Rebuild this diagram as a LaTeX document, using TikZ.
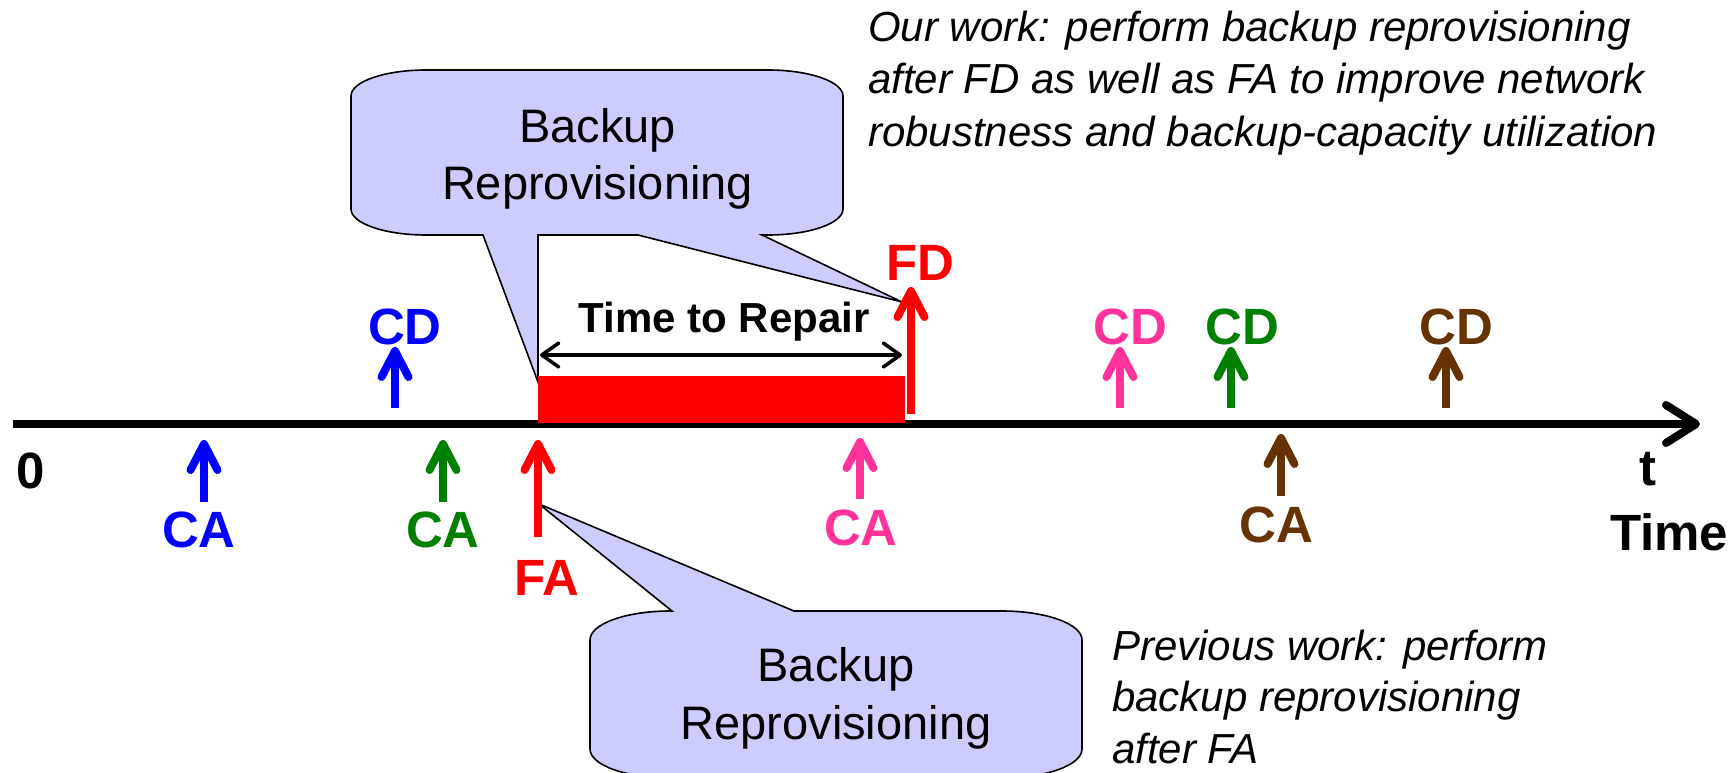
\documentclass[tikz,border=0pt]{standalone}
\usepackage{fontspec}
\setmainfont{Liberation Sans}
\usetikzlibrary{arrows.meta}

\definecolor{evblue}{RGB}{0,0,255}
\definecolor{evgreen}{RGB}{0,128,0}
\definecolor{evred}{RGB}{255,0,0}
\definecolor{evpink}{RGB}{255,51,153}
\definecolor{evbrown}{RGB}{102,51,0}
\definecolor{callfill}{RGB}{204,204,255}

% one connection event: small upward arrow plus its label
% #1 name, #2 colour, #3 x, #4 tail y, #5 tip y, #6 label x, #7 label baseline, #8 text
\newcommand\eventmark[8]{%
  \coordinate (#1-tail) at (#3,#4);
  \coordinate (#1-tip) at (#3,#5);
  \draw[evarrow, draw=#2] (#1-tail) -- (#1-tip);
  \node[lbl, text=#2] (#1) at (#6,#7) {#8};
}

\begin{document}
\begin{tikzpicture}[x=1pt, y=-1pt,
  lbl/.style={font=\fontsize{51}{60}\selectfont\bfseries, inner sep=0pt, anchor=base},
  evarrow/.style={line width=8pt, -{Straight Barb[length=26pt, width=27pt, round]}},
  bubble/.style={draw=black, line width=1.6pt, fill=callfill, line join=miter},
  bubtext/.style={font=\fontsize{47}{57.5}\selectfont, align=center, inner sep=0pt, anchor=base},
  note/.style={font=\fontsize{42}{53}\selectfont\itshape, align=left, inner sep=0pt, anchor=base west},
]
\useasboundingbox (0,0) rectangle (1733,773);

% wedge tips of the two callouts
\coordinate (wedgeFD)  at (902,302);
\coordinate (wedgeBar) at (538,382);
\coordinate (wedgeFA)  at (539,504);

% upper callout (two pointers); multi-line text sits on its last baseline
\path[bubble] (426,70) -- (768,70)
  arc[start angle=270, end angle=360, x radius=75, y radius=26] -- (843,209)
  arc[start angle=0, end angle=90, x radius=75, y radius=26] -- (762,235)
  -- (wedgeFD) -- (638,235) -- (538,235) -- (wedgeBar) -- (483,235) -- (426,235)
  arc[start angle=90, end angle=180, x radius=75, y radius=26] -- (351,96)
  arc[start angle=180, end angle=270, x radius=75, y radius=26] -- cycle;
\node[bubtext] (bubtop) at (597.5,200) {Backup\\Reprovisioning};

% lower callout
\path[bubble] (670,611) -- (672,611) -- (wedgeFA) -- (794,611) -- (1002,611)
  arc[start angle=270, end angle=360, x radius=80, y radius=29] -- (1082,749)
  arc[start angle=0, end angle=90, x radius=80, y radius=29] -- (670,778)
  arc[start angle=90, end angle=180, x radius=80, y radius=29] -- (590,640)
  arc[start angle=180, end angle=270, x radius=80, y radius=29] -- cycle;
\node[bubtext] (bubbot) at (836,739) {Backup\\Reprovisioning};

% time axis
\coordinate (origin) at (13,424);
\coordinate (axisend) at (1700,424);
\draw[line width=8pt, -{Straight Barb[length=30pt, width=38pt, round]}] (origin) -- (axisend);
\node[lbl] (zero) at (31,488) {0};
\node[lbl] (tlbl) at (1648,485) {t};
\node[lbl, anchor=base west] (timelbl) at (1610,550) {Time};

% failure period
\fill[evred] (538,376) rectangle (905,423);
\coordinate (ttrL) at (540,355);
\coordinate (ttrR) at (902,355);
\draw[line width=3.5pt, {Straight Barb[length=17pt, width=24pt, round]}-{Straight Barb[length=17pt, width=24pt, round]}] (ttrL) -- (ttrR);
\node[font=\fontsize{42}{50}\selectfont\bfseries, inner sep=0pt, anchor=base] (ttr) at (724,332) {Time to Repair};

% events
\eventmark{caA}{evblue}{204}{502}{440}{199}{547}{CA}
\eventmark{cdA}{evblue}{395}{408}{347}{405}{344}{CD}
\eventmark{caB}{evgreen}{443}{502}{440}{443}{547}{CA}
\eventmark{fa}{evred}{538}{537}{440}{547}{595}{FA}
\eventmark{caC}{evpink}{860}{499}{438}{861}{545}{CA}
\eventmark{fd}{evred}{911}{414}{287}{920}{280}{FD}
\eventmark{cdC}{evpink}{1120}{408}{347}{1130}{344}{CD}
\eventmark{cdB}{evgreen}{1231}{408}{347}{1242}{344}{CD}
\eventmark{caD}{evbrown}{1281}{496}{434}{1276}{542}{CA}
\eventmark{cdD}{evbrown}{1446}{408}{347}{1456}{344}{CD}

% comments
\node[note] (ournote) at (868,147) {Our work: perform backup reprovisioning\\after FD as well as FA to improve network\\robustness and backup-capacity utilization};
\node[note, font=\fontsize{42}{51.5}\selectfont\itshape] (prevnote) at (1112,763) {Previous work: perform\\backup reprovisioning\\after FA};
\end{tikzpicture}
\end{document}
